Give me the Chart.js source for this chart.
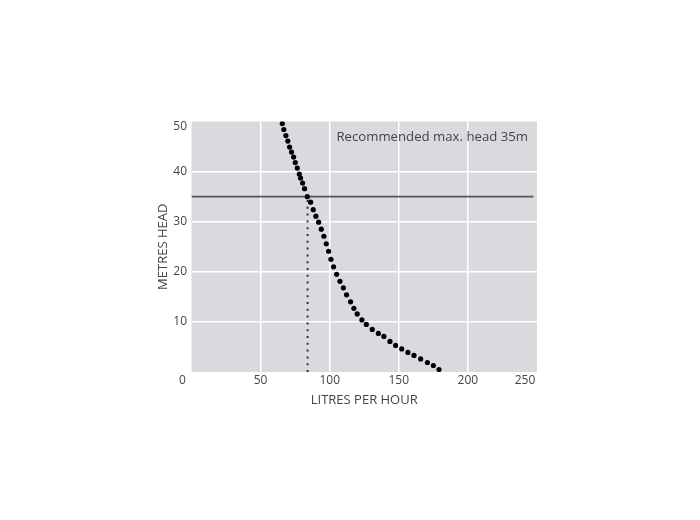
<!DOCTYPE html>
<html>
<head>
<meta charset="utf-8">
<script src="https://cdn.jsdelivr.net/npm/chart.js"></script>
<style>
  body { margin: 0; background: #fff; }
  canvas { display: block; }
</style>
</head>
<body>
<canvas id="pump" width="700" height="520"></canvas>
<script>
// pump curve, litres per hour vs metres head
const flowLph = [65.7, 66.8, 68.3, 69.7, 71.0, 72.4, 73.9, 75.1, 76.5, 78.0, 78.9, 80.4, 81.8, 83.8,
  86.2, 88.1, 90.0, 92.0, 93.9, 95.8, 97.5, 99.2, 100.9, 102.8, 105.0, 107.4, 109.9, 112.2, 115.1,
  117.5, 119.9, 123.3, 126.5, 130.8, 135.2, 139.2, 143.6, 147.7, 152.1, 156.6, 161.0, 165.8, 170.7,
  175.0, 179.1];
const headM = [49.6, 48.4, 47.2, 46.1, 44.9, 43.9, 42.9, 41.8, 40.7, 39.5, 38.7, 37.7, 36.6, 35.0,
  33.9, 32.4, 31.1, 29.9, 28.5, 27.1, 25.6, 24.1, 22.5, 21.0, 19.5, 18.1, 16.8, 15.4, 14.0,
  12.7, 11.6, 10.4, 9.5, 8.5, 7.7, 7.1, 6.1, 5.3, 4.6, 3.9, 3.3, 2.6, 1.9, 1.3, 0.5];

const maxHead = 35;
const maxHeadFlow = 84;
const maxHeadLineEnd = 247.4;
const xTicks = [0, 50, 100, 150, 200, 250];
const yTicks = [0, 10, 20, 30, 40, 50];
const noteText = "Recommended max. head 35m";

const textColor = "#444";
const tickFont = { family: "Open Sans", size: 12 };

const curvePoints = flowLph.map((x, i) => ({ x: x, y: headM[i] }));

const plotBg = {
  id: "plotBg",
  beforeDraw(chart) {
    const a = chart.chartArea;
    const c = chart.ctx;
    c.save();
    c.fillStyle = "#d9dade";
    c.fillRect(a.left, a.top, a.right - a.left, a.bottom - a.top);
    c.restore();
  },
  afterDraw(chart) {
    const a = chart.chartArea;
    const c = chart.ctx;
    const xs = chart.scales.x, ys = chart.scales.y;
    c.save();
    c.fillStyle = textColor;
    c.font = "12px 'Open Sans'";
    c.textBaseline = "middle";
    // edge tick labels, nudged inward like the original
    c.textAlign = "center";
    c.fillText(String(xTicks[0]), xs.getPixelForValue(xTicks[0]) - 9, a.bottom + 9);
    c.fillText(String(xTicks[5]), xs.getPixelForValue(xTicks[5]) - 12, a.bottom + 9);
    c.textAlign = "right";
    c.fillText(String(yTicks[5]), a.left - 4.5, ys.getPixelForValue(yTicks[5]) + 5);
    // note
    c.font = "13.2px 'Open Sans'";
    c.fillText(noteText, a.right - 9, a.top + 16);
    c.restore();
  }
};

new Chart(document.getElementById("pump"), {
  type: "scatter",
  data: {
    datasets: [
      {
        data: [{ x: 0, y: maxHead }, { x: maxHeadLineEnd, y: maxHead }],
        showLine: true,
        borderColor: "#555",
        borderWidth: 1.6,
        pointRadius: 0,
        order: 3
      },
      {
        data: [{ x: maxHeadFlow, y: 0 }, { x: maxHeadFlow, y: maxHead }],
        showLine: true,
        borderColor: "#333",
        borderWidth: 2,
        borderDash: [2, 4.8],
        pointRadius: 0,
        order: 2
      },
      {
        data: curvePoints,
        showLine: false,
        pointRadius: 2.6,
        pointBackgroundColor: "#000",
        pointBorderWidth: 0,
        order: 1
      }
    ]
  },
  options: {
    responsive: false,
    animation: false,
    events: [],
    layout: { padding: { top: 121.5, right: 163, bottom: 110, left: 148 } },
    plugins: { legend: { display: false }, tooltip: { enabled: false } },
    scales: {
      x: {
        type: "linear",
        min: 0,
        max: 250,
        afterFit(s) { s.height = 38; },
        afterBuildTicks(s) { s.ticks = xTicks.map(v => ({ value: v })); },
        border: { display: false },
        grid: {
          drawTicks: false,
          lineWidth: 1.5,
          color: ctx => (ctx.tick && (ctx.tick.value === 0 || ctx.tick.value === 250)) ? "rgba(0,0,0,0)" : "#fff"
        },
        ticks: {
          padding: 1,
          color: textColor,
          font: tickFont,
          callback: v => (v === 0 || v === 250) ? "" : String(v)
        },
        title: {
          display: true,
          text: "LITRES PER HOUR",
          color: textColor,
          font: { family: "Open Sans", size: 13 },
          padding: { top: 0, bottom: 1.5 }
        }
      },
      y: {
        type: "linear",
        min: 0,
        max: 50,
        afterFit(s) { s.width = 43.5; },
        afterBuildTicks(s) { s.ticks = yTicks.map(v => ({ value: v })); },
        border: { display: false },
        grid: {
          drawTicks: false,
          lineWidth: 1.5,
          color: ctx => (ctx.tick && (ctx.tick.value === 0 || ctx.tick.value === 50)) ? "rgba(0,0,0,0)" : "#fff"
        },
        ticks: {
          padding: 4.5,
          color: textColor,
          font: tickFont,
          callback: v => (v === 0 || v === 50) ? "" : String(v)
        },
        title: {
          display: true,
          text: "METRES HEAD",
          color: textColor,
          font: { family: "Open Sans", size: 13 },
          padding: { top: 7.2, bottom: 0 }
        }
      }
    }
  },
  plugins: [plotBg]
});
</script>
</body>
</html>
